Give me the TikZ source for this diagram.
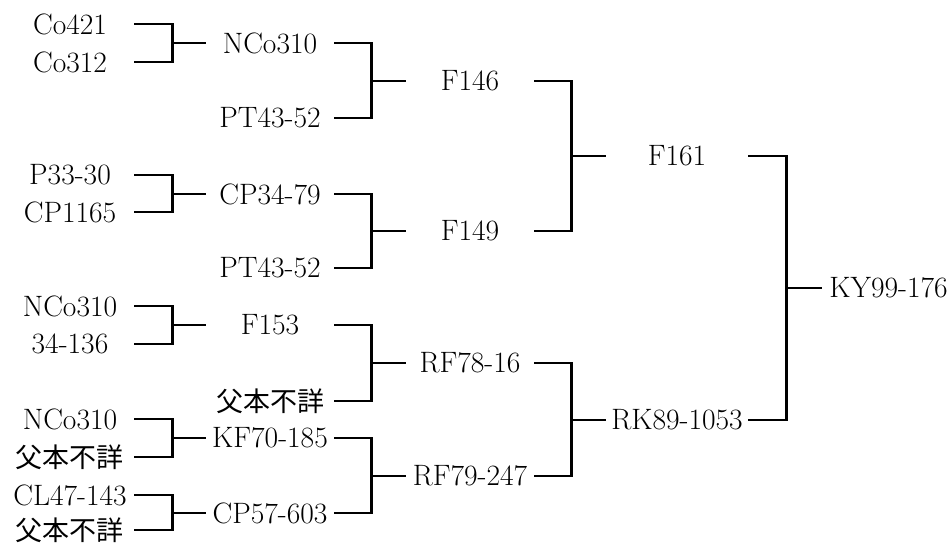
\documentclass[tikz,border=0pt]{standalone}
\usepackage{fontspec}
\newfontfamily\jpfont{Noto Sans CJK JP}
\usepackage{tikz}

\begin{document}
\begin{tikzpicture}[x=1pt, y=-1pt, line width=2.8pt,
  strain/.style = {inner sep=0pt, minimum width=126pt, font=\fontsize{29.5}{32}\selectfont},
  wide/.style = {strain, minimum width=140pt},
  top/.style = {inner xsep=6pt, inner ysep=0pt, anchor=west, font=\fontsize{29.5}{32}\selectfont},
  unknown/.style = {strain, font=\fontsize{27}{30}\selectfont\jpfont}]
\useasboundingbox (0,0) rectangle (950,543);
% generation 1
\node[strain] (co421) at (70,24) {Co421};
\node[strain] (co312) at (70,62) {Co312};
\node[strain] (p3330) at (70,175) {P33-30};
\node[strain] (cp1165) at (70,212) {CP1165};
\node[strain] (nco310b) at (70,306) {NCo310};
\node[strain] (s34136) at (70,344) {34-136};
\node[strain] (nco310c) at (70,419) {NCo310};
\node[unknown] (unkA) at (70,457) {父本不詳};
\node[strain] (cl47143) at (70,495) {CL47-143};
\node[unknown] (unkB) at (70,530) {父本不詳};
% generation 2
\node[strain] (nco310a) at (270,43) {NCo310};
\node[strain] (pt4352a) at (270,118) {PT43-52};
\node[strain] (cp3479) at (270,194) {CP34-79};
\node[strain] (pt4352b) at (270,268) {PT43-52};
\node[strain] (f153) at (270,325) {F153};
\node[unknown] (unkC) at (270,401) {父本不詳};
\node[strain] (kf70185) at (270,438) {KF70-185};
\node[strain] (cp57603) at (270,513) {CP57-603};
% generation 3
\node[strain] (f146) at (470,81) {F146};
\node[strain] (f149) at (470,231) {F149};
\node[strain] (rf7816) at (470,363) {RF78-16};
\node[strain] (rf79247) at (470,476) {RF79-247};
% generation 4
\node[wide] (f161) at (677,156) {F161};
\node[wide] (rk891053) at (677,420) {RK89-1053};
% generation 5
\node[top] (ky99176) at (822,288) {KY99-176};

\draw (co421.east) -- ++(38,0) |- (nco310a.west);
\draw (co312.east) -- ++(38,0) |- (nco310a.west);
\draw (p3330.east) -- ++(38,0) |- (cp3479.west);
\draw (cp1165.east) -- ++(38,0) |- (cp3479.west);
\draw (nco310b.east) -- ++(38,0) |- (f153.west);
\draw (s34136.east) -- ++(38,0) |- (f153.west);
\draw (nco310c.east) -- ++(38,0) |- (kf70185.west);
\draw (unkA.east) -- ++(38,0) |- (kf70185.west);
\draw (cl47143.east) -- ++(38,0) |- (cp57603.west);
\draw (unkB.east) -- ++(38,0) |- (cp57603.west);

\draw (nco310a.east) -- ++(37,0) |- (f146.west);
\draw (pt4352a.east) -- ++(37,0) |- (f146.west);
\draw (cp3479.east) -- ++(37,0) |- (f149.west);
\draw (pt4352b.east) -- ++(37,0) |- (f149.west);
\draw (f153.east) -- ++(37,0) |- (rf7816.west);
\draw (unkC.east) -- ++(37,0) |- (rf7816.west);
\draw (kf70185.east) -- ++(37,0) |- (rf79247.west);
\draw (cp57603.east) -- ++(37,0) |- (rf79247.west);

\draw (f146.east) -- ++(37,0) |- (f161.west);
\draw (f149.east) -- ++(37,0) |- (f161.west);
\draw (rf7816.east) -- ++(37,0) |- (rk891053.west);
\draw (rf79247.east) -- ++(37,0) |- (rk891053.west);

\draw (f161.east) -- ++(38,0) |- (ky99176.west);
\draw (rk891053.east) -- ++(38,0) |- (ky99176.west);
\end{tikzpicture}
\end{document}
